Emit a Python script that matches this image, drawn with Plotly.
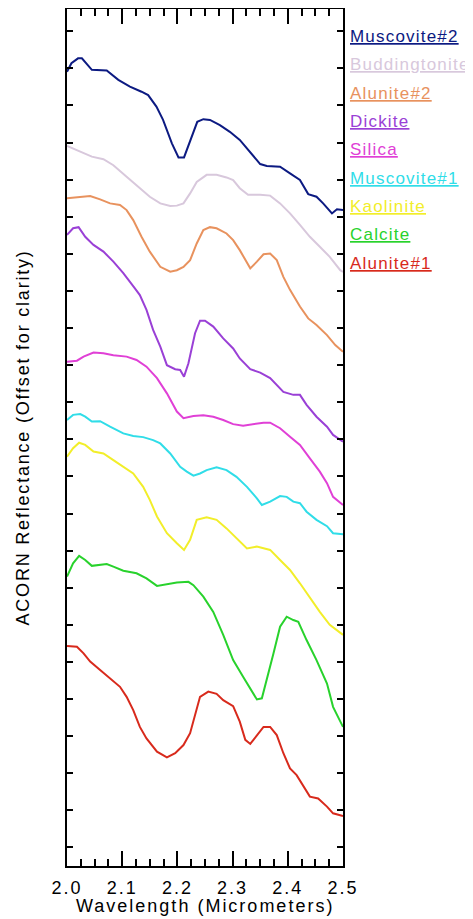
import plotly.graph_objects as go

# ---- data (wavelength in micrometers, offset reflectance) ----
names = ["Muscovite#2", "Buddingtonite", "Alunite#2", "Dickite", "Silica",
         "Muscovite#1", "Kaolinite", "Calcite", "Alunite#1"]
colors = ["#0c1a82", "#d8c8dc", "#e8925e", "#9a40d6", "#e040d6",
          "#30dde8", "#f2ee2a", "#28d22c", "#d82a1c"]

muscovite2_wl = [2.000, 2.008, 2.020, 2.027, 2.045, 2.072, 2.093, 2.114, 2.135, 2.147, 2.162, 2.174, 2.190, 2.202,
                 2.212, 2.223, 2.236, 2.247, 2.259, 2.277, 2.295, 2.313, 2.326, 2.350, 2.362, 2.386, 2.404, 2.422,
                 2.437, 2.452, 2.464, 2.480, 2.489, 2.500]
muscovite2_r = [2.141, 2.164, 2.177, 2.177, 2.146, 2.144, 2.119, 2.101, 2.087, 2.078, 2.047, 2.011, 1.948, 1.910,
                1.910, 1.952, 2.006, 2.013, 2.011, 1.997, 1.979, 1.957, 1.934, 1.892, 1.887, 1.885, 1.867, 1.849,
                1.811, 1.804, 1.786, 1.759, 1.770, 1.768]

buddingtonite_wl = [2.000, 2.024, 2.045, 2.066, 2.084, 2.108, 2.132, 2.150, 2.169, 2.187, 2.199, 2.211, 2.223, 2.235,
                    2.253, 2.271, 2.289, 2.301, 2.313, 2.328, 2.350, 2.368, 2.386, 2.404, 2.422, 2.440, 2.458, 2.476,
                    2.495, 2.500]
buddingtonite_r = [1.941, 1.925, 1.912, 1.905, 1.889, 1.858, 1.827, 1.804, 1.786, 1.779, 1.780, 1.786, 1.813, 1.844,
                   1.863, 1.863, 1.856, 1.849, 1.827, 1.809, 1.809, 1.807, 1.786, 1.759, 1.728, 1.696, 1.669, 1.642,
                   1.606, 1.601]

alunite2_wl = [2.000, 2.024, 2.042, 2.060, 2.078, 2.096, 2.108, 2.120, 2.135, 2.150, 2.169, 2.187, 2.199, 2.211,
               2.223, 2.235, 2.247, 2.259, 2.271, 2.289, 2.301, 2.313, 2.332, 2.344, 2.356, 2.368, 2.380, 2.392,
               2.404, 2.422, 2.437, 2.452, 2.471, 2.486, 2.500]
alunite2_r = [1.800, 1.804, 1.806, 1.797, 1.786, 1.782, 1.768, 1.741, 1.696, 1.656, 1.615, 1.602, 1.606, 1.615,
              1.633, 1.678, 1.714, 1.722, 1.719, 1.705, 1.687, 1.660, 1.611, 1.629, 1.649, 1.651, 1.633, 1.588,
              1.553, 1.508, 1.476, 1.458, 1.431, 1.404, 1.386]

dickite_wl = [2.000, 2.011, 2.021, 2.033, 2.048, 2.066, 2.084, 2.102, 2.123, 2.132, 2.144, 2.156, 2.169, 2.181,
              2.196, 2.205, 2.212, 2.220, 2.232, 2.241, 2.250, 2.265, 2.283, 2.301, 2.313, 2.332, 2.350, 2.368,
              2.392, 2.410, 2.422, 2.434, 2.452, 2.471, 2.482, 2.500]
dickite_r = [1.701, 1.719, 1.722, 1.696, 1.674, 1.656, 1.629, 1.598, 1.557, 1.539, 1.499, 1.445, 1.400, 1.350,
             1.339, 1.337, 1.319, 1.355, 1.436, 1.470, 1.470, 1.454, 1.422, 1.395, 1.368, 1.339, 1.330, 1.315,
             1.278, 1.270, 1.270, 1.243, 1.211, 1.184, 1.162, 1.144]

silica_wl = [2.000, 2.018, 2.030, 2.048, 2.066, 2.084, 2.108, 2.126, 2.144, 2.163, 2.181, 2.199, 2.211, 2.229,
             2.247, 2.265, 2.283, 2.301, 2.319, 2.338, 2.356, 2.368, 2.386, 2.404, 2.422, 2.440, 2.458, 2.471,
             2.482, 2.500]
silica_r = [1.359, 1.362, 1.373, 1.384, 1.382, 1.377, 1.373, 1.364, 1.346, 1.315, 1.274, 1.225, 1.207, 1.213,
            1.215, 1.211, 1.202, 1.191, 1.187, 1.191, 1.195, 1.195, 1.180, 1.157, 1.135, 1.099, 1.063, 1.032,
            0.995, 0.973]

muscovite1_wl = [2.000, 2.011, 2.024, 2.033, 2.045, 2.060, 2.078, 2.102, 2.120, 2.138, 2.156, 2.169, 2.187, 2.205,
                 2.217, 2.229, 2.241, 2.253, 2.271, 2.289, 2.307, 2.326, 2.344, 2.353, 2.368, 2.386, 2.398, 2.410,
                 2.422, 2.434, 2.452, 2.471, 2.482, 2.500]
muscovite1_r = [1.202, 1.216, 1.218, 1.211, 1.198, 1.199, 1.184, 1.166, 1.159, 1.156, 1.148, 1.139, 1.112, 1.076,
                1.063, 1.052, 1.058, 1.067, 1.075, 1.067, 1.049, 1.022, 0.991, 0.973, 0.982, 0.997, 0.995, 0.982,
                0.978, 0.955, 0.933, 0.916, 0.897, 0.894]

kaolinite_wl = [2.000, 2.011, 2.022, 2.033, 2.048, 2.066, 2.084, 2.102, 2.120, 2.138, 2.150, 2.163, 2.181, 2.199,
                2.212, 2.223, 2.235, 2.253, 2.271, 2.289, 2.307, 2.326, 2.344, 2.368, 2.386, 2.404, 2.422, 2.440,
                2.458, 2.476, 2.500]
kaolinite_r = [1.103, 1.126, 1.141, 1.135, 1.117, 1.112, 1.094, 1.076, 1.058, 1.022, 0.987, 0.942, 0.897, 0.870,
               0.852, 0.879, 0.933, 0.940, 0.933, 0.910, 0.883, 0.856, 0.861, 0.852, 0.825, 0.798, 0.762, 0.722,
               0.685, 0.650, 0.623]

calcite_wl = [2.000, 2.011, 2.022, 2.033, 2.045, 2.060, 2.072, 2.084, 2.102, 2.126, 2.144, 2.163, 2.181, 2.199,
              2.220, 2.229, 2.247, 2.265, 2.283, 2.301, 2.319, 2.338, 2.344, 2.353, 2.362, 2.374, 2.386, 2.398,
              2.410, 2.419, 2.434, 2.452, 2.471, 2.482, 2.500]
calcite_r = [0.780, 0.816, 0.836, 0.825, 0.809, 0.811, 0.814, 0.807, 0.796, 0.789, 0.775, 0.755, 0.760, 0.764,
             0.766, 0.757, 0.726, 0.685, 0.623, 0.555, 0.510, 0.461, 0.449, 0.452, 0.501, 0.573, 0.645, 0.672,
             0.663, 0.658, 0.609, 0.555, 0.492, 0.429, 0.375]

alunite1_wl = [2.000, 2.018, 2.030, 2.042, 2.060, 2.078, 2.096, 2.108, 2.120, 2.132, 2.144, 2.163, 2.181, 2.196,
               2.211, 2.223, 2.235, 2.241, 2.256, 2.271, 2.283, 2.301, 2.313, 2.323, 2.332, 2.344, 2.356, 2.368,
               2.380, 2.392, 2.404, 2.416, 2.428, 2.440, 2.455, 2.471, 2.482, 2.500]
alunite1_r = [0.593, 0.591, 0.573, 0.551, 0.528, 0.506, 0.483, 0.456, 0.420, 0.375, 0.344, 0.308, 0.293, 0.304,
              0.326, 0.358, 0.420, 0.456, 0.470, 0.464, 0.447, 0.431, 0.389, 0.340, 0.329, 0.353, 0.375, 0.375,
              0.353, 0.304, 0.263, 0.245, 0.214, 0.187, 0.182, 0.160, 0.142, 0.135]

series = [
    (muscovite2_wl, muscovite2_r), (buddingtonite_wl, buddingtonite_r), (alunite2_wl, alunite2_r),
    (dickite_wl, dickite_r), (silica_wl, silica_r), (muscovite1_wl, muscovite1_r),
    (kaolinite_wl, kaolinite_r), (calcite_wl, calcite_r), (alunite1_wl, alunite1_r),
]

x_tick_vals = [2.0, 2.1, 2.2, 2.3, 2.4, 2.5]
x_tick_text = ["2.0", "2.1", "2.2", "2.3", "2.4", "2.5"]
y_tick_vals = [0.05 + 0.1 * k for k in range(23)]
x_title = "Wavelength (Micrometers)"
y_title = "ACORN Reflectance (Offset for clarity)"

FONT = "Liberation Sans, Arial, Helvetica, sans-serif"


def spaced(t, px=2):
    return '<span style="letter-spacing:%spx">%s</span>' % (px, t)


fig = go.Figure()
for (wl, r), name, col in zip(series, names, colors):
    fig.add_trace(go.Scatter(x=wl, y=r, mode="lines", name=name,
                             line=dict(color=col, width=2), showlegend=False))

# legend as underlined coloured text to the right of the plot
legend_top = 0.968
legend_step = 0.0331
for i, (name, col) in enumerate(zip(names, colors)):
    fig.add_annotation(xref="paper", yref="paper", x=1, xshift=5,
                       y=legend_top - i * legend_step, xanchor="left", yanchor="middle",
                       text="<u>" + spaced(name, 1.2) + "</u>", showarrow=False,
                       font=dict(family=FONT, size=17, color=col))

# axis titles
fig.add_annotation(xref="paper", yref="paper", x=0.5, y=0, yshift=-40,
                   xanchor="center", yanchor="middle", showarrow=False,
                   text=spaced(x_title, 2), font=dict(family=FONT, size=18, color="black"))
fig.add_annotation(xref="paper", yref="paper", x=0, xshift=-45, y=0.5,
                   xanchor="center", yanchor="middle", showarrow=False, textangle=-90,
                   text=spaced(y_title, 1.8), font=dict(family=FONT, size=18, color="black"))

# the page body adds an 8px offset, so the figure is 8px smaller than the window
fig.update_layout(
    width=465, height=911,
    margin=dict(l=59, r=130, t=1, b=53, autoexpand=False),
    paper_bgcolor="white", plot_bgcolor="white",
    font=dict(family=FONT, color="black"),
)
fig.update_xaxes(
    range=[2.0, 2.5], showgrid=False, zeroline=False, automargin=False,
    showline=True, linecolor="black", linewidth=2, mirror="ticks",
    ticks="inside", ticklen=15, tickwidth=2, tickcolor="black",
    tickvals=x_tick_vals, ticktext=[spaced(t, 2) for t in x_tick_text],
    tickfont=dict(family=FONT, size=18, color="black"), ticklabelstandoff=4,
    minor=dict(dtick=0.025, ticks="inside", ticklen=7, tickwidth=2, tickcolor="black", showgrid=False),
)
fig.update_yaxes(
    range=[0, 2.310], showgrid=False, zeroline=False, automargin=False,
    showline=True, linecolor="black", linewidth=2, mirror="ticks",
    ticks="inside", ticklen=6, tickwidth=2, tickcolor="black",
    tickvals=y_tick_vals, showticklabels=False,
)

fig.write_html("out.html")
